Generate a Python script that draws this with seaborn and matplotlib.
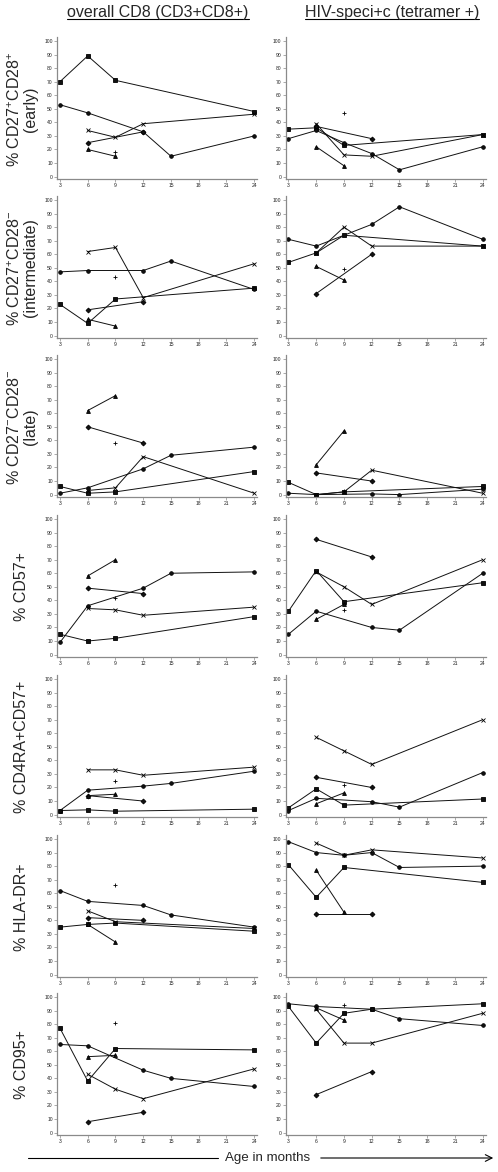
import numpy as np
import pandas as pd
import matplotlib
matplotlib.use('Agg')
import matplotlib.pyplot as plt
from matplotlib.lines import Line2D
from matplotlib.patches import FancyArrowPatch
import seaborn as sns

# Constants
W, H = 498, 1172
OUT_FILE = 'out.png'
nan = np.nan

MONTHS = [3, 6, 9, 12, 15, 24]
X_TICKS = [3, 6, 9, 12, 15, 18, 21, 24]
Y_TICKS = list(range(0, 101, 10))

# subject -> marker, marker size
MARKERS = {'s1': 's', 's2': 'o', 's3': 'D', 's4': '^', 's5': 'x', 's6': '+'}
MSIZE = {'s1': 2.6, 's2': 2.6, 's3': 2.5, 's4': 2.8, 's5': 3.0, 's6': 3.2}

COL_TITLES = ['overall CD8 (CD3+CD8+)', 'HIV-speci+c (tetramer +)']
ROW_LABELS = [
    '% CD27$^{+}$CD28$^{+}$\n(early)',
    '% CD27$^{+}$CD28$^{-}$\n(intermediate)',
    '% CD27$^{-}$CD28$^{-}$\n(late)',
    '% CD57+',
    '% CD4RA+CD57+',
    '% HLA-DR+',
    '% CD95+',
]

# values at MONTHS, one list per subject (s1 square, s2 circle, s3 diamond,
# s4 triangle, s5 cross, s6 plus)
early_all = {'s1': [70, 89, 71, nan, nan, 48], 's2': [53, 47, nan, 33, 15, 30],
             's3': [nan, 25, nan, 33, nan, nan], 's4': [nan, 20, 15, nan, nan, nan],
             's5': [nan, 34, 29, 39, nan, 46], 's6': [nan, nan, 18, nan, nan, nan]}
early_tet = {'s1': [35, 36, 23, nan, nan, 31], 's2': [28, 34, 25, 17, 5, 22],
             's3': [nan, 37, nan, 28, nan, nan], 's4': [nan, 22, 8, nan, nan, nan],
             's5': [nan, 39, 16, 15, nan, 31], 's6': [nan, nan, 47, nan, nan, nan]}
inter_all = {'s1': [23, 9, 27, nan, nan, 35], 's2': [47, 48, nan, 48, 55, 34],
             's3': [nan, 19, nan, 25, nan, nan], 's4': [nan, 12, 7, nan, nan, nan],
             's5': [nan, 62, 65, 28, nan, 53], 's6': [nan, nan, 43, nan, nan, nan]}
inter_tet = {'s1': [54, 61, 74, nan, nan, 66], 's2': [71, 66, nan, 82, 95, 71],
             's3': [nan, 31, nan, 60, nan, nan], 's4': [nan, 51, 41, nan, nan, nan],
             's5': [nan, 61, 80, 66, nan, 66], 's6': [nan, nan, 49, nan, nan, nan]}
late_all = {'s1': [6, 1, 2, nan, nan, 17], 's2': [1, 5, nan, 19, 29, 35],
            's3': [nan, 50, nan, 38, nan, nan], 's4': [nan, 62, 73, nan, nan, nan],
            's5': [nan, 3, 5, 28, nan, 1], 's6': [nan, nan, 38, nan, nan, nan]}
late_tet = {'s1': [9, 0, 2, nan, nan, 6], 's2': [1, 0, nan, 0.5, 0, 4],
            's3': [nan, 16, nan, 10, nan, nan], 's4': [nan, 22, 47, nan, nan, nan],
            's5': [nan, 0, 2, 18, nan, 1], 's6': [nan, nan, 3, nan, nan, nan]}
cd57_all = {'s1': [15, 10, 12, nan, nan, 28], 's2': [9, 36, nan, 49, 60, 61],
            's3': [nan, 49, nan, 45, nan, nan], 's4': [nan, 58, 70, nan, nan, nan],
            's5': [nan, 34, 33, 29, nan, 35], 's6': [nan, nan, 42, nan, nan, nan]}
cd57_tet = {'s1': [32, 62, 39, nan, nan, 53], 's2': [15, 32, nan, 20, 18, 60],
            's3': [nan, 85, nan, 72, nan, nan], 's4': [nan, 26, 37, nan, nan, nan],
            's5': [nan, 61, 50, 37, nan, 70], 's6': [nan, nan, 33, nan, nan, nan]}
cd45_all = {'s1': [3, 3.5, 2.5, nan, nan, 4], 's2': [3, 18, nan, 21, 23, 32],
            's3': [nan, 14, nan, 10, nan, nan], 's4': [nan, 14, 15, nan, nan, nan],
            's5': [nan, 33, 33, 29, nan, 35], 's6': [nan, nan, 25, nan, nan, nan]}
cd45_tet = {'s1': [5, 19, 7, nan, nan, 11.5], 's2': [3, 12, nan, 9.5, 5.5, 31],
            's3': [nan, 27.5, nan, 20, nan, nan], 's4': [nan, 8, 16, nan, nan, nan],
            's5': [nan, 57, 47, 37, nan, 70], 's6': [nan, nan, 22, nan, nan, nan]}
hla_all = {'s1': [35, 37, 38, nan, nan, 32], 's2': [62, 54, nan, 51, 44, 35],
           's3': [nan, 42, nan, 40, nan, nan], 's4': [nan, 37, 24, nan, nan, nan],
           's5': [nan, 47, 39, nan, nan, 34], 's6': [nan, nan, 66, nan, nan, nan]}
hla_tet = {'s1': [81, 57, 79, nan, nan, 68], 's2': [98, 90, 88, 90, 79, 80],
           's3': [nan, 45, nan, 45, nan, nan], 's4': [nan, 77, 46, nan, nan, nan],
           's5': [nan, 97, 88, 92, nan, 86], 's6': [nan, nan, 88, nan, nan, nan]}
cd95_all = {'s1': [77, 38, 62, nan, nan, 61], 's2': [65, 64, nan, 46, 40, 34],
            's3': [nan, 8, nan, 15, nan, nan], 's4': [nan, 56, 57, nan, nan, nan],
            's5': [nan, 43, 32, 25, nan, 47], 's6': [nan, nan, 81, nan, nan, nan]}
cd95_tet = {'s1': [93, 66, 88, 91, nan, 95], 's2': [95, 93, nan, 91, 84, 79],
            's3': [nan, 28, nan, 45, nan, nan], 's4': [nan, 92, 83, nan, nan, nan],
            's5': [nan, 91, 66, 66, nan, 88], 's6': [nan, nan, 94, nan, nan, nan]}

PANELS = [
    (early_all, early_tet),
    (inter_all, inter_tet),
    (late_all, late_tet),
    (cd57_all, cd57_tet),
    (cd45_all, cd45_tet),
    (hla_all, hla_tet),
    (cd95_all, cd95_tet),
]

# layout (pixels)
Y100 = [41, 200, 359, 519, 679, 839, 997]
PX_PER_UNIT = 1.356
YLIM = (-2, 103)
XLIM = (2.68, 24.3)
COL_LEFT = [57, 285.5]
COL_WIDTH = 200


def to_frame(panel):
    """Long table of one panel."""
    rows = []
    for subj, vals in panel.items():
        for m, v in zip(MONTHS, vals):
            if not np.isnan(v):
                rows.append({'month': m, 'value': v, 'subject': subj})
    return pd.DataFrame(rows)


def style_axes(ax):
    ax.set_xlim(*XLIM)
    ax.set_ylim(*YLIM)
    ax.set_xticks(X_TICKS)
    ax.set_yticks(Y_TICKS)
    ax.set_xlabel('')
    ax.set_ylabel('')
    for side in ['top', 'right']:
        ax.spines[side].set_visible(False)
    for side in ['left', 'bottom']:
        ax.spines[side].set_color('#8a8a8a')
        ax.spines[side].set_linewidth(0.9)
    ax.tick_params(labelsize=3.6, length=2, width=0.5, color='#8a8a8a',
                   pad=1, labelcolor='#222222')


def draw_panel(fig, panel, row, col):
    top = Y100[row] - (YLIM[1] - 100) * PX_PER_UNIT
    height = (YLIM[1] - YLIM[0]) * PX_PER_UNIT
    ax = fig.add_axes([COL_LEFT[col] / W, 1 - (top + height) / H,
                       COL_WIDTH / W, height / H])
    df = to_frame(panel)
    # seaborn won't mix filled and line-art markers in one style mapping
    for subj, sub in df.groupby('subject'):
        sns.lineplot(data=sub, x='month', y='value', estimator=None,
                     marker=MARKERS[subj], color='#111111', linewidth=0.7,
                     markersize=MSIZE[subj], markeredgewidth=0.6,
                     markeredgecolor='black', legend=False, ax=ax)
    style_axes(ax)
    return ax


def main():
    sns.set_style('ticks')
    plt.rcParams['font.family'] = ['Liberation Sans', 'DejaVu Sans']
    plt.rcParams['mathtext.fontset'] = 'custom'
    plt.rcParams['mathtext.rm'] = 'Liberation Sans'
    plt.rcParams['mathtext.it'] = 'Liberation Sans'

    fig = plt.figure(figsize=(W / 100, H / 100), dpi=100)

    for r, (left, right) in enumerate(PANELS):
        draw_panel(fig, left, r, 0)
        draw_panel(fig, right, r, 1)
        ymid = Y100[r] + 50 * PX_PER_UNIT
        fig.text(22 / W, 1 - ymid / H, ROW_LABELS[r], rotation=90,
                 ha='center', va='center', fontsize=11.5, multialignment='center',
                 linespacing=1.05)

    # column titles, underlined
    renderer = fig.canvas.get_renderer()
    for cx, title in zip([158, 392], COL_TITLES):
        t = fig.text(cx / W, 1 - 12 / H, title, ha='center', va='center', fontsize=11.5)
        bb = t.get_window_extent(renderer).transformed(fig.transFigure.inverted())
        fig.add_artist(Line2D([bb.x0, bb.x1], [bb.y0 + 0.5 / H, bb.y0 + 0.5 / H],
                              transform=fig.transFigure, color='black', lw=0.8))

    # bottom axis annotation
    ya = 1 - 1158 / H
    fig.text(268 / W, ya, 'Age in months', ha='center', va='center', fontsize=9.6)
    fig.add_artist(Line2D([28 / W, 218 / W], [ya, ya], transform=fig.transFigure,
                          color='black', lw=0.8))
    fig.add_artist(FancyArrowPatch((318 / W, ya), (496 / W, ya),
                                   transform=fig.transFigure, arrowstyle='->',
                                   mutation_scale=12, color='black', lw=0.8))

    fig.savefig(OUT_FILE, dpi=100)


if __name__ == "__main__":
    main()
